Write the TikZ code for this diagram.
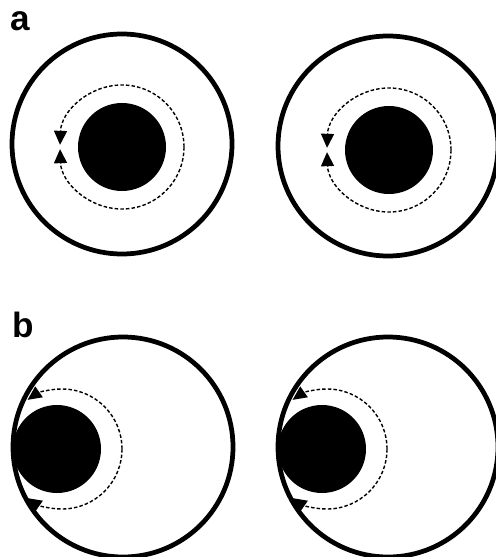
\documentclass[tikz,border=0pt]{standalone}
\usepackage{fontspec}
\setmainfont{Liberation Sans}
\usetikzlibrary{arrows.meta}

\begin{document}
\begin{tikzpicture}[
    x=0.02cm, y=-0.02cm,
    ring/.style={line width=0.095cm},
    core/.style={fill=black},
    orbit/.style={line width=0.8pt, dash pattern=on 2pt off 1.2pt,
                  -{Triangle[length=0.28cm, width=0.26cm]}},
    panel/.style={font=\fontsize{20}{20}\selectfont\bfseries,
                  anchor=base west, inner sep=0pt}
  ]
    \useasboundingbox (0,0) rectangle (496,557);

    \node[panel] (lbla) at (10,31)  {a};
    \node[panel] (lblb) at (12,337) {b};

    % a: core in the middle
    \foreach \cx/\cy/\kx/\ky in {122/144/122/147, 388/146/389/150} {
      \draw[ring] (\cx,\cy) circle[radius=110];
      \fill[core] (\kx,\ky) circle[radius=44];
      \draw[orbit] (\kx,\ky) ++(0:62) arc[start angle=0, end angle=178, radius=62];
      \draw[orbit] (\kx,\ky) ++(0:62) arc[start angle=0, end angle=-178, radius=62];
    }

    % b: core against the wall
    \foreach \cx/\kx in {123/57, 388/322} {
      \draw[ring] (\cx,447) circle[radius=110];
      \fill[core] (\kx,449) circle[radius=44];
      \draw[orbit] (\kx+5,449) ++(0:60) arc[start angle=0, end angle=125, radius=60];
      \draw[orbit] (\kx+5,449) ++(0:60) arc[start angle=0, end angle=-125, radius=60];
    }
  \end{tikzpicture}
\end{document}
